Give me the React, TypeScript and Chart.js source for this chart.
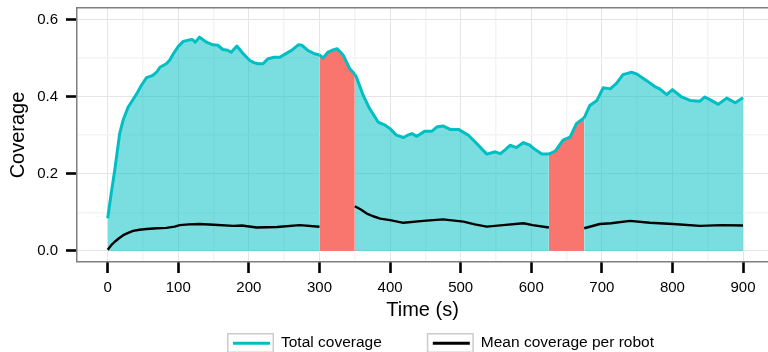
import React, { useEffect, useRef } from "react";
import { Chart, registerables } from "chart.js";

Chart.register(...registerables);

// ---- Data ----
const timeTotal = [
  0, 5, 10, 17, 22, 29, 35, 41, 48, 55, 64, 70, 74, 83, 88, 93, 100, 107, 116, 120,
  124, 130, 140, 149, 156, 163, 170, 175, 183, 192, 201, 207, 213, 220, 227, 236, 244,
  253, 260, 270, 275, 284, 293, 300, 305, 312, 318, 325, 330, 334, 343, 350, 352, 362,
  371, 383, 393, 400, 409, 419, 425, 431, 438, 449, 459, 466, 475, 485, 497, 511, 523,
  537, 549, 556, 563, 570, 579, 589, 598, 606, 615, 625, 634, 645, 655, 664, 675, 683,
  693, 702, 712, 721, 730, 742, 749, 763, 775, 782, 792, 800, 813, 825, 839, 846, 853,
  865, 877, 889, 900,
];
const totalCoverage = [
  0.085, 0.15, 0.21, 0.305, 0.34, 0.373, 0.39, 0.407, 0.43, 0.449, 0.455, 0.465, 0.476,
  0.485, 0.495, 0.511, 0.53, 0.543, 0.547, 0.548, 0.541, 0.554, 0.541, 0.534, 0.533,
  0.522, 0.52, 0.515, 0.531, 0.511, 0.494, 0.488, 0.485, 0.485, 0.498, 0.502, 0.502,
  0.512, 0.519, 0.534, 0.533, 0.519, 0.511, 0.508, 0.5, 0.515, 0.52, 0.524, 0.515, 0.506,
  0.472, 0.458, 0.452, 0.403, 0.369, 0.334, 0.326, 0.317, 0.3, 0.294, 0.3, 0.304, 0.297,
  0.31, 0.31, 0.321, 0.324, 0.315, 0.315, 0.3, 0.278, 0.251, 0.257, 0.252, 0.262, 0.274,
  0.268, 0.281, 0.274, 0.262, 0.251, 0.251, 0.259, 0.287, 0.295, 0.33, 0.345, 0.377,
  0.39, 0.423, 0.42, 0.435, 0.457, 0.463, 0.459, 0.442, 0.426, 0.42, 0.405, 0.418, 0.399,
  0.39, 0.388, 0.399, 0.392, 0.38, 0.396, 0.384, 0.397,
];
const timeMean = [
  0, 5, 10, 16, 22, 29, 36, 45, 55, 70, 83, 95, 102, 115, 130, 150, 178, 190, 211, 240,
  272, 300, 350, 358, 367, 376, 386, 400, 419, 447, 475, 504, 520, 537, 560, 589, 602,
  625, 675, 697, 713, 740, 768, 801, 839, 870, 900,
];
const meanCoverage = [
  0.003, 0.015, 0.024, 0.033, 0.041, 0.047, 0.052, 0.055, 0.057, 0.059, 0.06, 0.063,
  0.067, 0.069, 0.07, 0.068, 0.065, 0.066, 0.061, 0.062, 0.067, 0.063, 0.116, 0.108,
  0.097, 0.09, 0.084, 0.08, 0.073, 0.078, 0.082, 0.076, 0.069, 0.063, 0.067, 0.072,
  0.067, 0.061, 0.059, 0.07, 0.072, 0.078, 0.073, 0.07, 0.065, 0.067, 0.066,
];
// Highlighted time windows (red bands)
const bandStarts = [300, 625];
const bandEnds = [350, 675];
const seriesLabels = ["Total coverage", "Mean coverage per robot"];

const FONT = "'Liberation Sans', Arial, Helvetica, sans-serif";
const CYAN = "#00BFC4";
const CYAN_FILL = "rgba(0,191,196,0.52)";
const RED = "#F8766D";

function inBand(a: number, b: number): boolean {
  return bandStarts.some((s, i) => a >= s - 1e-9 && b <= bandEnds[i] + 1e-9);
}

const panelBorder = {
  id: "panelBorder",
  afterDatasetsDraw(chart: any) {
    const { ctx, chartArea } = chart;
    const { left, top, bottom } = chartArea;
    ctx.save();
    ctx.strokeStyle = "#7f7f7f";
    ctx.lineWidth = 1.5;
    ctx.beginPath();
    ctx.moveTo(chart.width + 2, top - 0.25);
    ctx.lineTo(left - 0.25, top - 0.25);
    ctx.lineTo(left - 0.25, bottom - 0.25);
    ctx.lineTo(chart.width + 2, bottom - 0.25);
    ctx.stroke();
    ctx.restore();
  },
};

const ggLegend = {
  id: "ggLegend",
  afterDraw(chart: any) {
    const { ctx } = chart;
    ctx.save();
    ctx.font = `15.5px ${FONT}`;
    ctx.textBaseline = "middle";
    ctx.textAlign = "left";
    let x = 227;
    const top = 333;
    const h = 20;
    const w = 47;
    chart.data.datasets.forEach((ds: any) => {
      ctx.strokeStyle = "#cccccc";
      ctx.lineWidth = 1.5;
      ctx.strokeRect(x + 0.75, top + 0.75, w - 1.5, h - 1.5);
      ctx.strokeStyle = ds.borderColor;
      ctx.lineWidth = 3;
      ctx.beginPath();
      ctx.moveTo(x + 6, top + 10.3);
      ctx.lineTo(x + w - 4, top + 10.3);
      ctx.stroke();
      ctx.fillStyle = "#000";
      ctx.fillText(ds.label, x + 54, top + 9.5);
      x += 54 + ctx.measureText(ds.label).width + 45;
    });
    ctx.restore();
  },
};

export default function App() {
  const ref = useRef<HTMLCanvasElement | null>(null);

  useEffect(() => {
    if (!ref.current) return;
    const isMajorX = (v: number) => Math.round(v) % 100 === 0;
    const isMajorY = (v: number) => Math.round(v * 10) % 2 === 0;
    const chart = new Chart(ref.current, {
      type: "line",
      data: {
        datasets: [
          {
            label: seriesLabels[0],
            data: timeTotal.map((t, i) => ({ x: t, y: totalCoverage[i] })),
            borderColor: CYAN,
            borderWidth: 3,
            backgroundColor: CYAN_FILL,
            fill: "origin",
            pointRadius: 0,
            tension: 0,
            borderJoinStyle: "round",
            order: 2,
            segment: {
              backgroundColor: (c: any) =>
                inBand(c.p0.parsed.x, c.p1.parsed.x) ? RED : CYAN_FILL,
            },
          } as any,
          {
            label: seriesLabels[1],
            data: timeMean.map((t, i) => ({ x: t, y: meanCoverage[i] })),
            borderColor: "#000000",
            borderWidth: 2.4,
            fill: false,
            pointRadius: 0,
            tension: 0,
            borderJoinStyle: "round",
            order: 1,
            segment: {
              borderColor: (c: any) =>
                inBand(c.p0.parsed.x, c.p1.parsed.x) ? "rgba(0,0,0,0)" : "#000000",
            },
          } as any,
        ],
      },
      options: {
        responsive: false,
        animation: false,
        events: [],
        layout: { padding: { top: 8, left: 0, right: 0, bottom: 0 } },
        plugins: {
          legend: { display: false },
          tooltip: { enabled: false },
        },
        scales: {
          x: {
            type: "linear",
            min: -43.5,
            max: 935.4,
            afterFit: (s: any) => {
              s.height = 90;
              s.paddingLeft = 0;
              s.paddingRight = 0;
            },
            border: { display: false },
            grid: {
              color: (c: any) => (isMajorX(c.tick.value) ? "#e5e5e5" : "#f4f4f4"),
              lineWidth: (c: any) => (isMajorX(c.tick.value) ? 1 : 1.5),
              tickColor: (c: any) => (isMajorX(c.tick.value) ? "#000" : "rgba(0,0,0,0)"),
              tickWidth: 2.6,
              tickLength: 11,
            },
            ticks: {
              stepSize: 50,
              includeBounds: false,
              autoSkip: false,
              maxRotation: 0,
              padding: 6,
              color: "#000",
              font: { family: FONT, size: 15 },
              callback: (v: any) => (isMajorX(Number(v)) ? String(v) : ""),
            },
            title: {
              display: true,
              text: "Time (s)",
              color: "#000",
              font: { family: FONT, size: 20 },
              padding: { top: 0, bottom: 30 },
            },
          },
          y: {
            type: "linear",
            min: -0.0285,
            max: 0.6295,
            afterFit: (s: any) => {
              s.width = 77;
              s.paddingTop = 0;
              s.paddingBottom = 0;
            },
            border: { display: false },
            grid: {
              color: (c: any) => (isMajorY(c.tick.value) ? "#e5e5e5" : "#f4f4f4"),
              lineWidth: (c: any) => (isMajorY(c.tick.value) ? 1 : 1.5),
              tickColor: (c: any) => (isMajorY(c.tick.value) ? "#000" : "rgba(0,0,0,0)"),
              tickWidth: 2.6,
              tickLength: 11,
            },
            ticks: {
              stepSize: 0.1,
              includeBounds: false,
              autoSkip: false,
              padding: 8,
              color: "#000",
              font: { family: FONT, size: 15 },
              callback: (v: any) => (isMajorY(Number(v)) ? Number(v).toFixed(1) : ""),
            },
            title: {
              display: true,
              text: "Coverage",
              color: "#000",
              font: { family: FONT, size: 20 },
              padding: { top: 6, bottom: 0 },
            },
          },
        },
      },
      plugins: [panelBorder, ggLegend],
    });
    return () => chart.destroy();
  }, []);

  return (
    <div style={{ position: "absolute", left: 0, top: 0, width: 768, height: 352, background: "#fff" }}>
      <canvas ref={ref} width={768} height={352} style={{ display: "block" }} />
    </div>
  );
}
